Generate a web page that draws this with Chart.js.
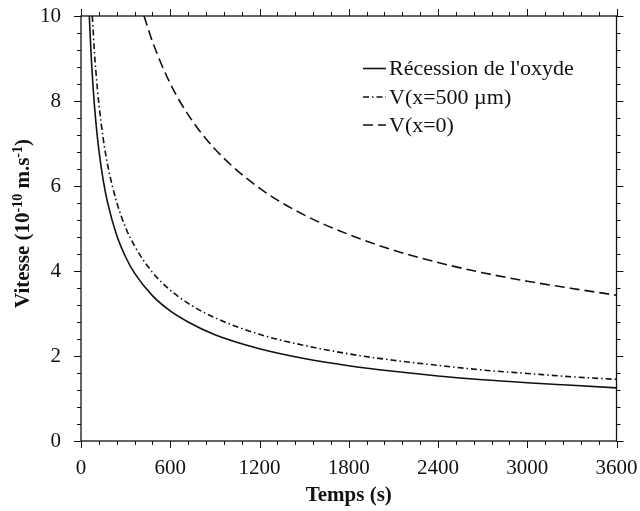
<!DOCTYPE html>
<html>
<head>
<meta charset="utf-8">
<script src="https://cdn.jsdelivr.net/npm/chart.js@4/dist/chart.umd.min.js"></script>
<style>
  html, body { margin: 0; padding: 0; background: #fff; }
  #wrap { width: 640px; height: 511px; }
</style>
</head>
<body>
<div id="wrap"><canvas id="c" width="640" height="511"></canvas></div>
<script>
// ---- Data ----
const seriesNames = ["Récession de l'oxyde", "V(x=500 µm)", "V(x=0)"];

const tSolid = [56, 60, 70, 80, 90, 100, 120, 150, 180, 240, 300, 360, 480, 600, 720, 900, 1200, 1500, 1800, 2100, 2400, 2700, 3000, 3300, 3600];
const vSolid = [10.0, 9.68, 8.96, 8.39, 7.91, 7.50, 6.85, 6.12, 5.59, 4.84, 4.33, 3.95, 3.42, 3.06, 2.80, 2.50, 2.17, 1.94, 1.77, 1.64, 1.53, 1.44, 1.37, 1.31, 1.25];

const tDashDot = [76, 90, 100, 120, 150, 180, 240, 300, 360, 480, 600, 720, 900, 1200, 1500, 1800, 2100, 2400, 2700, 3000, 3300, 3600];
const vDashDot = [10.0, 9.17, 8.70, 7.94, 7.10, 6.48, 5.62, 5.02, 4.59, 3.97, 3.55, 3.24, 2.90, 2.51, 2.25, 2.05, 1.90, 1.78, 1.67, 1.59, 1.51, 1.45];

const tDashed = [424, 480, 600, 720, 900, 1200, 1500, 1800, 2100, 2400, 2700, 3000, 3300, 3600];
const vDashed = [10.0, 9.40, 8.41, 7.68, 6.87, 5.95, 5.32, 4.86, 4.49, 4.20, 3.96, 3.76, 3.59, 3.43];

const xTickLabels = ["0", "600", "1200", "1800", "2400", "3000", "3600"];
const yTickLabels = ["0", "2", "4", "6", "8", "10"];

// y-axis title pieces: [text, isSuperscript]
const yTitleParts = [["Vitesse (10", false], ["-10", true], [" m.s", false], ["-1", true], [")", false]];

// ---- helpers ----
function pts(ts, vs) { return ts.map((t, i) => ({ x: t, y: vs[i] })); }

const INK = '#111111';
const SERIF = "'Liberation Serif', 'Times New Roman', serif";

const frameTicks = {
  id: 'frameTicks',
  afterDraw(chart) {
    const ctx = chart.ctx;
    const a = chart.chartArea;
    const xs = chart.scales.x, ys = chart.scales.y;
    ctx.save();
    ctx.strokeStyle = INK;
    ctx.lineWidth = 1.3;
    ctx.strokeRect(a.left, a.top, a.right - a.left, a.bottom - a.top);
    ctx.lineWidth = 1;
    ctx.beginPath();
    for (let t = 0; t <= 3600; t += 120) {
      const px = Math.round(xs.getPixelForValue(t)) + 0.5;
      const len = (t % 600 === 0) ? 7 : 4;
      ctx.moveTo(px, a.bottom); ctx.lineTo(px, a.bottom + len);
      ctx.moveTo(px, a.top); ctx.lineTo(px, a.top - len);
    }
    for (let k = 0; k <= 25; k++) {
      const v = k * 0.4;
      const py = Math.round(ys.getPixelForValue(v)) + 0.5;
      const len = (k % 5 === 0) ? 7 : 4;
      ctx.moveTo(a.left, py); ctx.lineTo(a.left - len, py);
      ctx.moveTo(a.right, py); ctx.lineTo(a.right + len, py);
    }
    ctx.stroke();

    // legend (inside plot area)
    const rows = [68.5, 97, 125];
    ctx.font = "22px " + SERIF;
    ctx.fillStyle = INK;
    ctx.textBaseline = 'middle';
    ctx.textAlign = 'left';
    chart.data.datasets.forEach((ds, i) => {
      const y = rows[i];
      ctx.beginPath();
      ctx.setLineDash(ds.borderDash || []);
      ctx.lineWidth = ds.borderWidth;
      ctx.strokeStyle = ds.borderColor;
      ctx.moveTo(363, y); ctx.lineTo(386, y);
      ctx.stroke();
      ctx.setLineDash([]);
      ctx.fillText(ds.label, 389, y + 1);
    });

    // y-axis title with real superscripts
    const big = "bold 21px " + SERIF, small = "bold 14px " + SERIF;
    let total = 0;
    yTitleParts.forEach(([s, sup]) => { ctx.font = sup ? small : big; total += ctx.measureText(s).width; });
    const cy = (a.top + a.bottom) / 2 - 5;
    ctx.translate(24, cy);
    ctx.rotate(-Math.PI / 2);
    ctx.textAlign = 'left';
    ctx.textBaseline = 'middle';
    let x = -total / 2;
    yTitleParts.forEach(([s, sup]) => {
      ctx.font = sup ? small : big;
      ctx.fillText(s, x, sup ? -6 : 0);
      x += ctx.measureText(s).width;
    });
    ctx.restore();
  }
};

new Chart(document.getElementById('c'), {
  type: 'line',
  data: {
    datasets: [
      { label: seriesNames[0], data: pts(tSolid, vSolid), borderColor: INK, borderWidth: 1.6, borderDash: [], pointRadius: 0, cubicInterpolationMode: 'monotone', fill: false },
      { label: seriesNames[1], data: pts(tDashDot, vDashDot), borderColor: INK, borderWidth: 1.6, borderDash: [6, 3, 1.5, 3], pointRadius: 0, cubicInterpolationMode: 'monotone', fill: false },
      { label: seriesNames[2], data: pts(tDashed, vDashed), borderColor: INK, borderWidth: 1.6, borderDash: [10, 5], pointRadius: 0, cubicInterpolationMode: 'monotone', fill: false }
    ]
  },
  options: {
    responsive: false,
    animation: false,
    devicePixelRatio: 1,
    layout: { padding: { top: 16, right: 23.5, left: 0, bottom: 0 } },
    plugins: { legend: { display: false }, tooltip: { enabled: false } },
    scales: {
      x: {
        type: 'linear', min: 0, max: 3600,
        grid: { display: false, drawTicks: false },
        border: { display: false },
        ticks: {
          stepSize: 600, padding: 15, color: INK, maxRotation: 0,
          font: { family: SERIF, size: 21 },
          callback: (v) => xTickLabels[Math.round(v / 600)]
        },
        title: { display: true, text: 'Temps (s)', color: INK, font: { family: SERIF, size: 21, weight: 'bold' }, padding: { top: 0, bottom: 2.5 } },
        afterFit(s) { s.height = 70; s.paddingLeft = 0; s.paddingRight = 0; }
      },
      y: {
        type: 'linear', min: 0, max: 10,
        grid: { display: false, drawTicks: false },
        border: { display: false },
        ticks: {
          stepSize: 2, padding: 20, color: INK,
          font: { family: SERIF, size: 21 },
          callback: (v) => yTickLabels[Math.round(v / 2)]
        },
        title: { display: false },
        afterFit(s) { s.width = 81; s.paddingTop = 0; s.paddingBottom = 0; }
      }
    }
  },
  plugins: [frameTicks]
});
</script>
</body>
</html>
